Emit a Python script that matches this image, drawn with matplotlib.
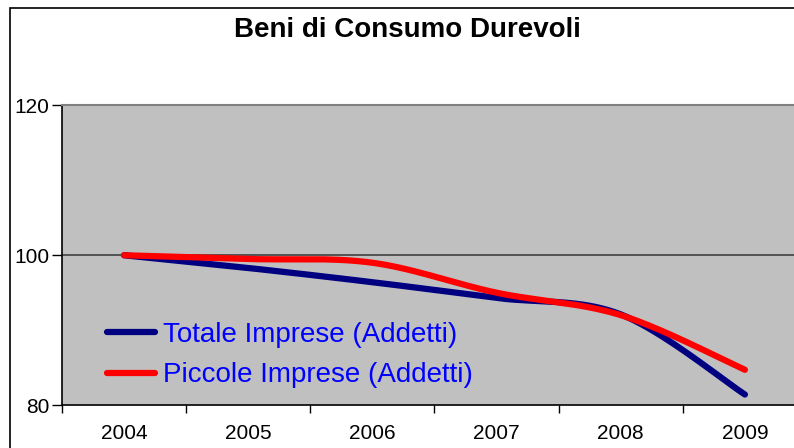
import numpy as np
import matplotlib.pyplot as plt
from matplotlib.patches import Rectangle

# dati
anni = ["2004", "2005", "2006", "2007", "2008", "2009"]
totale_imprese = [100.0, 98.3, 96.4, 94.3, 92.1, 81.4]
piccole_imprese = [100.0, 99.5, 99.0, 95.0, 92.0, 84.7]

W, H = 794, 448


def smooth(y, n=40):
  # curva smussata tipo Excel (bezier con tangenti catmull-rom)
  x = np.arange(len(y), dtype=float)
  y = np.asarray(y, dtype=float)
  xs, ys = [], []
  for i in range(len(y) - 1):
    p0 = np.array([x[max(i - 1, 0)], y[max(i - 1, 0)]])
    p1 = np.array([x[i], y[i]])
    p2 = np.array([x[i + 1], y[i + 1]])
    p3 = np.array([x[min(i + 2, len(y) - 1)], y[min(i + 2, len(y) - 1)]])
    c1 = p1 + (p2 - p0) / 6
    c2 = p2 - (p3 - p1) / 6
    t = np.linspace(0, 1, n)[:, None]
    pts = ((1 - t) ** 3) * p1 + 3 * ((1 - t) ** 2) * t * c1 + 3 * (1 - t) * t ** 2 * c2 + t ** 3 * p2
    xs.extend(pts[:, 0])
    ys.extend(pts[:, 1])
  return np.array(xs), np.array(ys)


fig = plt.figure(figsize=(W / 100, H / 100), dpi=100)
plt.rcParams['font.family'] = ['Liberation Sans', 'DejaVu Sans']

# cornice esterna
fig.patches.append(Rectangle((10 / W, -0.05), 1.1, 1 - 8 / H + 0.05, transform=fig.transFigure,
                             fill=False, edgecolor="black", linewidth=1.2))

left, right = 62, 807
bottom, top = 405, 105.5
ax = fig.add_axes([left / W, (H - bottom) / H, (right - left) / W, (bottom - top) / H])
ax.set_facecolor("#C0C0C0")

ax.set_xlim(-0.5, 5.5)
ax.set_ylim(80, 120)
ax.set_yticks([80, 100, 120])
ax.set_yticklabels(["80", "100", "120"], fontsize=15)
ax.set_xticks(range(len(anni)))
ax.set_xticklabels(anni, fontsize=15)
ax.set_xticks(np.arange(-0.5, 6, 1), minor=True)
ax.tick_params(axis="x", which="major", length=0, pad=14)
ax.tick_params(axis="x", which="minor", length=6, width=1, direction="out")
ax.tick_params(axis="y", length=7, width=1, pad=2)

ax.axhline(100, color="#404040", linewidth=1.2, zorder=1)
ax.spines["right"].set_visible(False)
ax.spines["top"].set_color("#808080")
ax.spines["top"].set_linewidth(1.5)
ax.spines["left"].set_linewidth(1.2)
ax.spines["bottom"].set_linewidth(1.2)

sx, sy = smooth(totale_imprese)
ax.plot(sx, sy, color="#000080", linewidth=4.5, solid_capstyle="round", label="Totale Imprese (Addetti)", zorder=3)
sx, sy = smooth(piccole_imprese)
ax.plot(sx, sy, color="#FF0000", linewidth=4.5, solid_capstyle="round", label="Piccole Imprese (Addetti)", zorder=4)

leg = ax.legend(loc="upper left", bbox_to_anchor=(0.042, 0.325), frameon=False, fontsize=20,
                handlelength=1.73, handletextpad=0.29, labelspacing=0.53, borderpad=0)
for t in leg.get_texts():
  t.set_color("#0000FF")

fig.text(407 / W, 1 - 30 / H, "Beni di Consumo Durevoli", ha="center", va="center",
         fontsize=20, fontweight="bold")

fig.savefig("out.png", dpi=100)
